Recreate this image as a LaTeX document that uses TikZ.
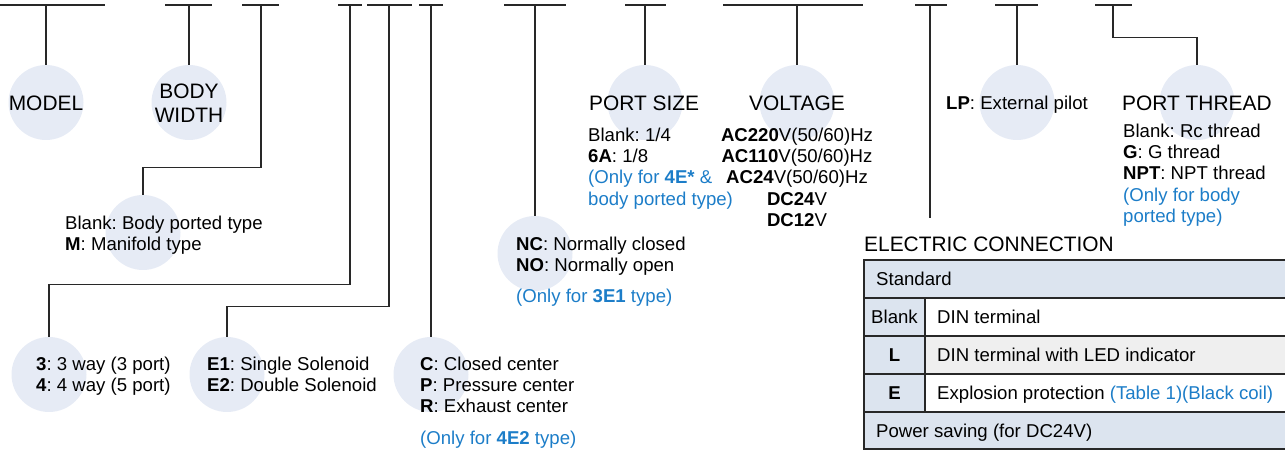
\documentclass[tikz,border=0pt]{standalone}
\usepackage{fontspec}
\setmainfont{Liberation Sans}
\frenchspacing
\definecolor{bub}{RGB}{230,235,245}
\definecolor{hdr}{RGB}{220,228,239}
\definecolor{lrow}{RGB}{239,239,239}
\definecolor{blu}{RGB}{28,125,200}
\definecolor{ln}{RGB}{40,40,40}
\newcommand\bodyfnt{\fontsize{18.6}{21.3}\selectfont\frenchspacing}
\newcommand\titlefnt{\fontsize{20.9}{24}\selectfont\frenchspacing}
\begin{document}
\begin{tikzpicture}[x=1pt,y=-1pt,
  bar/.style={draw=ln,line width=1.6pt},
  conn/.style={draw=ln,line width=1.3pt},
  tbl/.style={draw=ln,line width=1.4pt},
  bubble/.style={circle,fill=bub,minimum size=75pt,inner sep=0pt},
  title/.style={font=\titlefnt,inner sep=0pt,text=black},
  txt/.style={font=\bodyfnt,inner sep=0pt,align=left,anchor=north west,text=black},
  one/.style={font=\bodyfnt,inner sep=0pt,anchor=base west,text=black}]
\useasboundingbox (0,0) rectangle (1285,450);
% bubbles
\node[bubble] (model) at (46,102.5) {};
\node[bubble] (bw) at (189,102.5) {};
\node[bubble] (bm) at (143,232.5) {};
\node[bubble] (way) at (49,374.5) {};
\node[bubble] (sol) at (227,374.5) {};
\node[bubble] (ctr) at (431,374.5) {};
\node[bubble] (nc) at (535,253.5) {};
\node[bubble] (ps) at (645,102.5) {};
\node[bubble] (volt) at (797,102.5) {};
\node[bubble] (lp) at (1017,102.5) {};
\node[bubble] (pt) at (1197,102.5) {};
% top bars
\draw[bar] (0,5) -- (105,5);
\draw[bar] (165,5) -- (212,5);
\draw[bar] (242,5) -- (279,5);
\draw[bar] (338,5) -- (362,5);
\draw[bar] (367,5) -- (412,5);
\draw[bar] (419,5) -- (443,5);
\draw[bar] (504,5) -- (566,5);
\draw[bar] (625,5) -- (666,5);
\draw[bar] (723,5) -- (863,5);
\draw[bar] (915,5) -- (947,5);
\draw[bar] (995,5) -- (1038,5);
\draw[bar] (1095,5) -- (1132,5);
\coordinate (t1) at (46,5);
\coordinate (t2) at (189,5);
\coordinate (t3) at (261,5);
\coordinate (t4) at (350,5);
\coordinate (t5) at (389,5);
\coordinate (t6) at (431,5);
\coordinate (t7) at (535,5);
\coordinate (t8) at (645,5);
\coordinate (t9) at (797,5);
\coordinate (t10) at (930,5);
\coordinate (t11) at (1017,5);
\coordinate (t12) at (1113,5);
\coordinate (ec) at (930,218);
% connectors
\draw[conn] (t1) -- (model.north);
\draw[conn] (t2) -- (bw.north);
\draw[conn] (t3) |- ([yshift=27pt]bm.north) -- (bm.north);
\draw[conn] (t4) |- ([yshift=52pt]way.north) -- (way.north);
\draw[conn] (t5) |- ([yshift=30pt]sol.north) -- (sol.north);
\draw[conn] (t6) -- (ctr.north);
\draw[conn] (t7) -- (nc.north);
\draw[conn] (t8) -- (ps.north);
\draw[conn] (t9) -- (volt.north);
\draw[conn] (t10) -- (ec);
\draw[conn] (t11) -- (lp.north);
\draw[conn] (t12) |- ([yshift=27pt]pt.north) -- (pt.north);
% texts
\node[title] (modelT) at (46,103) {MODEL};
\node[title,align=center] (bwT) at (189,103) {BODY\\WIDTH};
\node[txt] (bmT) at (65,216) {Blank: Body ported type\\\textbf{M}: Manifold type};
\node[txt] (wayT) at (36,356.5) {\textbf{3}: 3 way (3 port)\\\textbf{4}: 4 way (5 port)};
\node[txt] (solT) at (207,356.5) {\textbf{E1}: Single Solenoid\\\textbf{E2}: Double Solenoid};
\node[txt] (ctrT) at (420,356.5) {\textbf{C}: Closed center\\\textbf{P}: Pressure center\\\textbf{R}: Exhaust center};
\node[one,text=blu] (ctrN) at (420,444.6) {(Only for \textbf{4E2} type)};
\node[txt] (ncT) at (516,236.5) {\textbf{NC}: Normally closed\\\textbf{NO}: Normally open};
\node[one,text=blu] (ncN) at (516,302.6) {(Only for \textbf{3E1} type)};
\node[title,anchor=west] (psT) at (589,103) {PORT SIZE};
\node[txt] (psL) at (588,127.5) {Blank: 1/4\\\textbf{6A}: 1/8\\\textcolor{blu}{(Only for \textbf{4E*} \&}\\\textcolor{blu}{body ported type)}};
\node[title] (voltT) at (797,103) {VOLTAGE};
\node[txt,align=center,anchor=north] (voltL) at (797,127.5) {\textbf{AC220}V(50/60)Hz\\\textbf{AC110}V(50/60)Hz\\\textbf{AC24}V(50/60)Hz\\\textbf{DC24}V\\\textbf{DC12}V};
\node[one] (lpT) at (946,109.6) {\textbf{LP}: External pilot};
\node[title,anchor=west] (ptT) at (1122,103) {PORT THREAD};
\node[txt] (ptL) at (1123,123.5) {Blank: Rc thread\\\textbf{G}: G thread\\\textbf{NPT}: NPT thread\\\textcolor{blu}{(Only for body}\\\textcolor{blu}{ported type)}};
\node[title,anchor=west] (ecT) at (864,244) {ELECTRIC CONNECTION};
% table
\fill[hdr] (864,260) rectangle (1285,298);
\fill[hdr] (864,298) rectangle (925,412);
\fill[white] (925,298) rectangle (1285,336);
\fill[lrow] (925,336) rectangle (1285,374);
\fill[white] (925,374) rectangle (1285,412);
\fill[hdr] (864,412) rectangle (1285,449);
\draw[tbl] (1285,260) -- (864,260) -- (864,449) -- (1285,449);
\draw[tbl] (864,298) -- (1285,298);
\draw[tbl] (864,336) -- (1285,336);
\draw[tbl] (864,374) -- (1285,374);
\draw[tbl] (864,412) -- (1285,412);
\draw[tbl] (925,298) -- (925,412);
\node[one] (stdT) at (876,285.6) {Standard};
\node[one,anchor=base] (blankT) at (894.5,323.6) {Blank};
\node[one] (dinT) at (937,323.6) {DIN terminal};
\node[one,anchor=base] (lT) at (894.5,361.6) {\textbf{L}};
\node[one] (ledT) at (937,361.6) {DIN terminal with LED indicator};
\node[one,anchor=base] (eT) at (894.5,399.6) {\textbf{E}};
\node[one] (expT) at (937,399.6) {Explosion protection \textcolor{blu}{(Table 1)(Black coil)}};
\node[one] (pwT) at (876,437.6) {Power saving (for DC24V)};
\end{tikzpicture}
\end{document}
